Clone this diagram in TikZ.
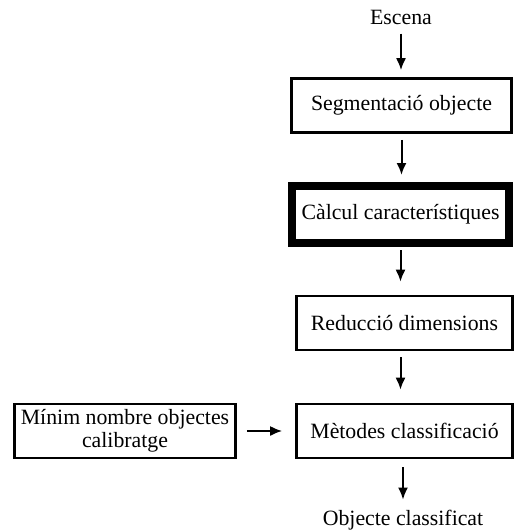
\documentclass[tikz,border=0pt]{standalone}
\usepackage{fontspec}
\setmainfont{Liberation Serif}
\usetikzlibrary{arrows.meta}
\tikzstyle{every node}=[font=\fontsize{10.9}{11.6}\selectfont,inner sep=0pt,align=center]
\tikzstyle{stage}=[draw=black,line width=1.3pt,minimum width=108pt,minimum height=27pt]
\tikzstyle{keystage}=[stage,line width=4pt,minimum width=108.5pt,minimum height=28.5pt]
\tikzstyle{flow}=[-{Latex[length=6pt,width=5pt]},line width=1pt]

\begin{document}
\begin{tikzpicture}[x=0.5pt, y=-0.5pt]
\useasboundingbox (0,0) rectangle (516,531);
\node (escena) at (401,17) {Escena};
\node[stage, minimum width=110pt] (segm) at (401.5,105.5) {Segmentació objecte};
\node[keystage] (calc) at (400.5,214.5) {Càlcul característiques};
\node[stage] (reduc) at (404.5,323) {Reducció dimensions};
\node[stage] (metod) at (404.5,431) {Mètodes classificació};
\node[stage, minimum width=110.5pt] (minim) at (125,431) {Mínim nombre objectes\\calibratge};
\node (result) at (403,520) {Objecte classificat};
\draw[flow, shorten <=4.5pt, shorten >=3.5pt] (escena) -- (escena |- segm.north);
\draw[flow, shorten <=3pt, shorten >=3.5pt] (segm) -- (segm |- calc.north);
\draw[flow, shorten <=1.5pt, shorten >=6.5pt] (calc) -- (calc |- reduc.north);
\draw[flow, shorten <=3pt, shorten >=6.5pt] (reduc.south -| calc) -- (calc |- metod.north);
\draw[flow, shorten <=5pt, shorten >=6.5pt] (minim) -- (metod);
\draw[flow, shorten <=4pt, shorten >=5pt] (metod.south -| result) -- (result);
\end{tikzpicture}
\end{document}
